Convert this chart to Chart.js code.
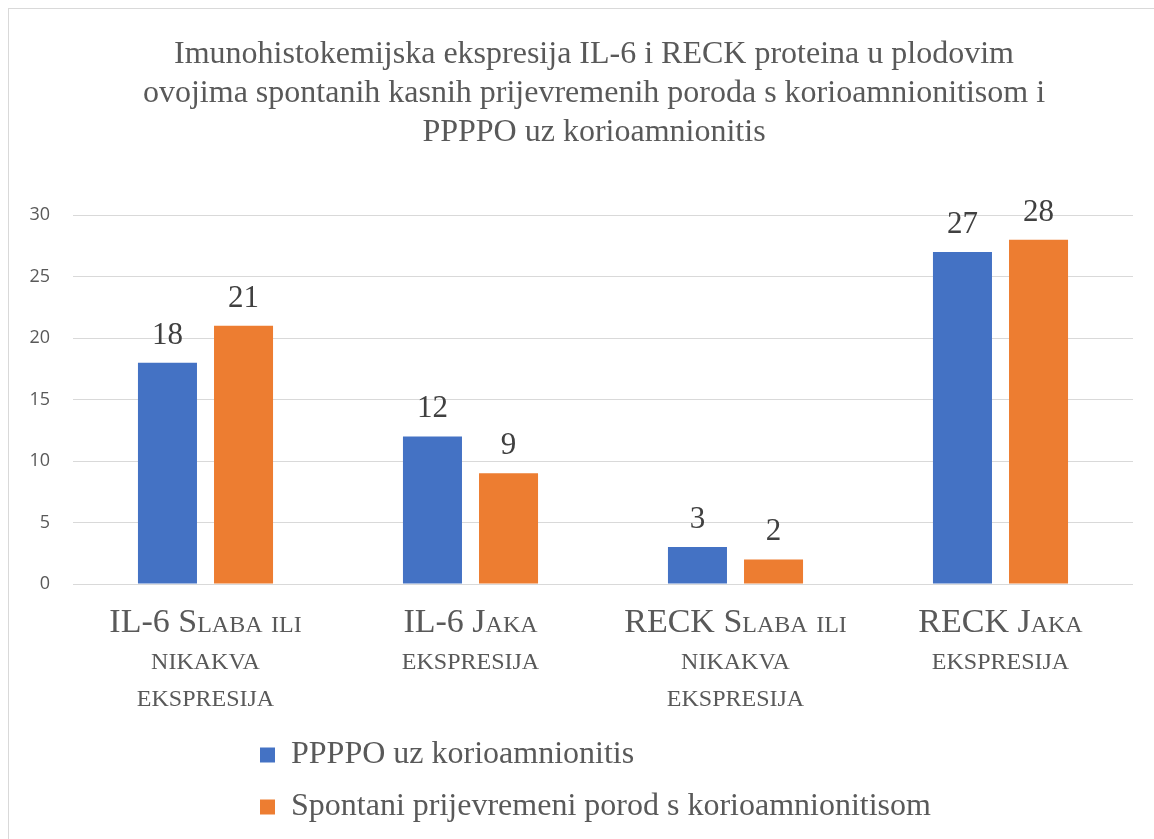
<!DOCTYPE html>
<html>
<head>
<meta charset="utf-8">
<script src="https://cdn.jsdelivr.net/npm/chart.js@4/dist/chart.umd.min.js"></script>
<style>
  html, body { margin: 0; padding: 0; background: #ffffff; overflow: hidden; }
  #frame { position: absolute; left: 8px; top: 8px; width: 1200px; height: 900px; border: 1px solid #d9d9d9; box-sizing: border-box; }
  #wrap { position: absolute; left: 0; top: 0; width: 1154px; height: 839px; }
</style>
</head>
<body>
<div id="frame"></div>
<div id="wrap"><canvas id="c" width="1154" height="839"></canvas></div>
<script>
const titleLines = [
  'Imunohistokemijska ekspresija IL-6 i RECK proteina u plodovim',
  'ovojima spontanih kasnih prijevremenih poroda s korioamnionitisom i',
  'PPPPO uz korioamnionitis'
];
const categories = [
  ['IL-6 Slaba ili', 'nikakva', 'ekspresija'],
  ['IL-6 Jaka', 'ekspresija'],
  ['RECK Slaba ili', 'nikakva', 'ekspresija'],
  ['RECK Jaka', 'ekspresija']
];
const seriesNames = ['PPPPO uz korioamnionitis', 'Spontani prijevremeni porod s korioamnionitisom'];
const ppppoValues = [18, 12, 3, 27];
const spontaniValues = [21, 9, 2, 28];
const seriesColors = ['#4472C4', '#ED7D31'];
const yMin = 0, yMax = 30, yStep = 5;

const serif = '"Liberation Serif", "Times New Roman", serif';
const sans = '"Open Sans", "Liberation Sans", sans-serif';

const valueLabels = {
  id: 'valueLabels',
  afterDatasetsDraw(chart) {
    const ctx = chart.ctx;
    ctx.save();
    ctx.font = '31px ' + serif;
    ctx.fillStyle = '#404040';
    ctx.textAlign = 'center';
    ctx.textBaseline = 'alphabetic';
    chart.data.datasets.forEach((ds, di) => {
      const meta = chart.getDatasetMeta(di);
      meta.data.forEach((bar, i) => {
        ctx.fillText(String(ds.data[i]), bar.x, bar.y - 19);
      });
    });
    ctx.restore();
  }
};

const boxPlacer = {
  id: 'boxPlacer',
  afterInit(chart) {
    const lg = chart.legend;
    if (lg && !lg._patched) {
      const orig = lg.update.bind(lg);
      lg.update = function (w, h, m) { return orig(Math.min(w, 720), h, m); };
      lg._patched = true;
    }
  },
  afterLayout(chart) {
    const lg = chart.legend;
    if (lg) {
      lg.left = 240;
      lg.width = 720;
      lg.right = lg.left + lg.width;
    }
    const tb = chart.titleBlock;
    if (tb) {
      tb.left = 55;
      tb.right = 1133;
      tb.width = tb.right - tb.left;
    }
  }
};

new Chart(document.getElementById('c'), {
  type: 'bar',
  data: {
    labels: categories,
    datasets: [
      { label: seriesNames[0], data: ppppoValues, backgroundColor: seriesColors[0], categoryPercentage: 0.574, barPercentage: 0.776 },
      { label: seriesNames[1], data: spontaniValues, backgroundColor: seriesColors[1], categoryPercentage: 0.574, barPercentage: 0.776 }
    ]
  },
  options: {
    responsive: false,
    animation: false,
    layout: { padding: { left: 0, right: 21, top: 0, bottom: 6 } },
    plugins: {
      title: {
        display: true,
        text: titleLines,
        color: '#595959',
        font: { family: serif, size: 32, weight: 'normal', lineHeight: 1.22 },
        padding: { top: 35, bottom: 63 }
      },
      legend: {
        display: true,
        position: 'bottom',
        align: 'start',
        labels: {
          color: '#595959',
          font: { family: serif, size: 32 },
          boxWidth: 15,
          boxHeight: 15,
          padding: 20
        }
      },
      tooltip: { enabled: false }
    },
    scales: {
      x: {
        grid: { display: false, drawTicks: false },
        border: { display: false },
        ticks: {
          color: '#595959',
          font: { family: serif, size: 34, weight: 'small-caps', lineHeight: 1.1 },
          padding: 20,
          maxRotation: 0,
          autoSkip: false
        },
        afterFit(scale) { scale.height = 135; }
      },
      y: {
        min: yMin,
        max: yMax,
        grid: { color: '#d9d9d9', lineWidth: 1, drawTicks: false },
        border: { display: false },
        ticks: {
          stepSize: yStep,
          color: '#595959',
          font: { family: sans, size: 18 },
          padding: 23
        },
        afterFit(scale) { scale.width = 73; }
      }
    }
  },
  plugins: [valueLabels, boxPlacer]
});
</script>
</body>
</html>
